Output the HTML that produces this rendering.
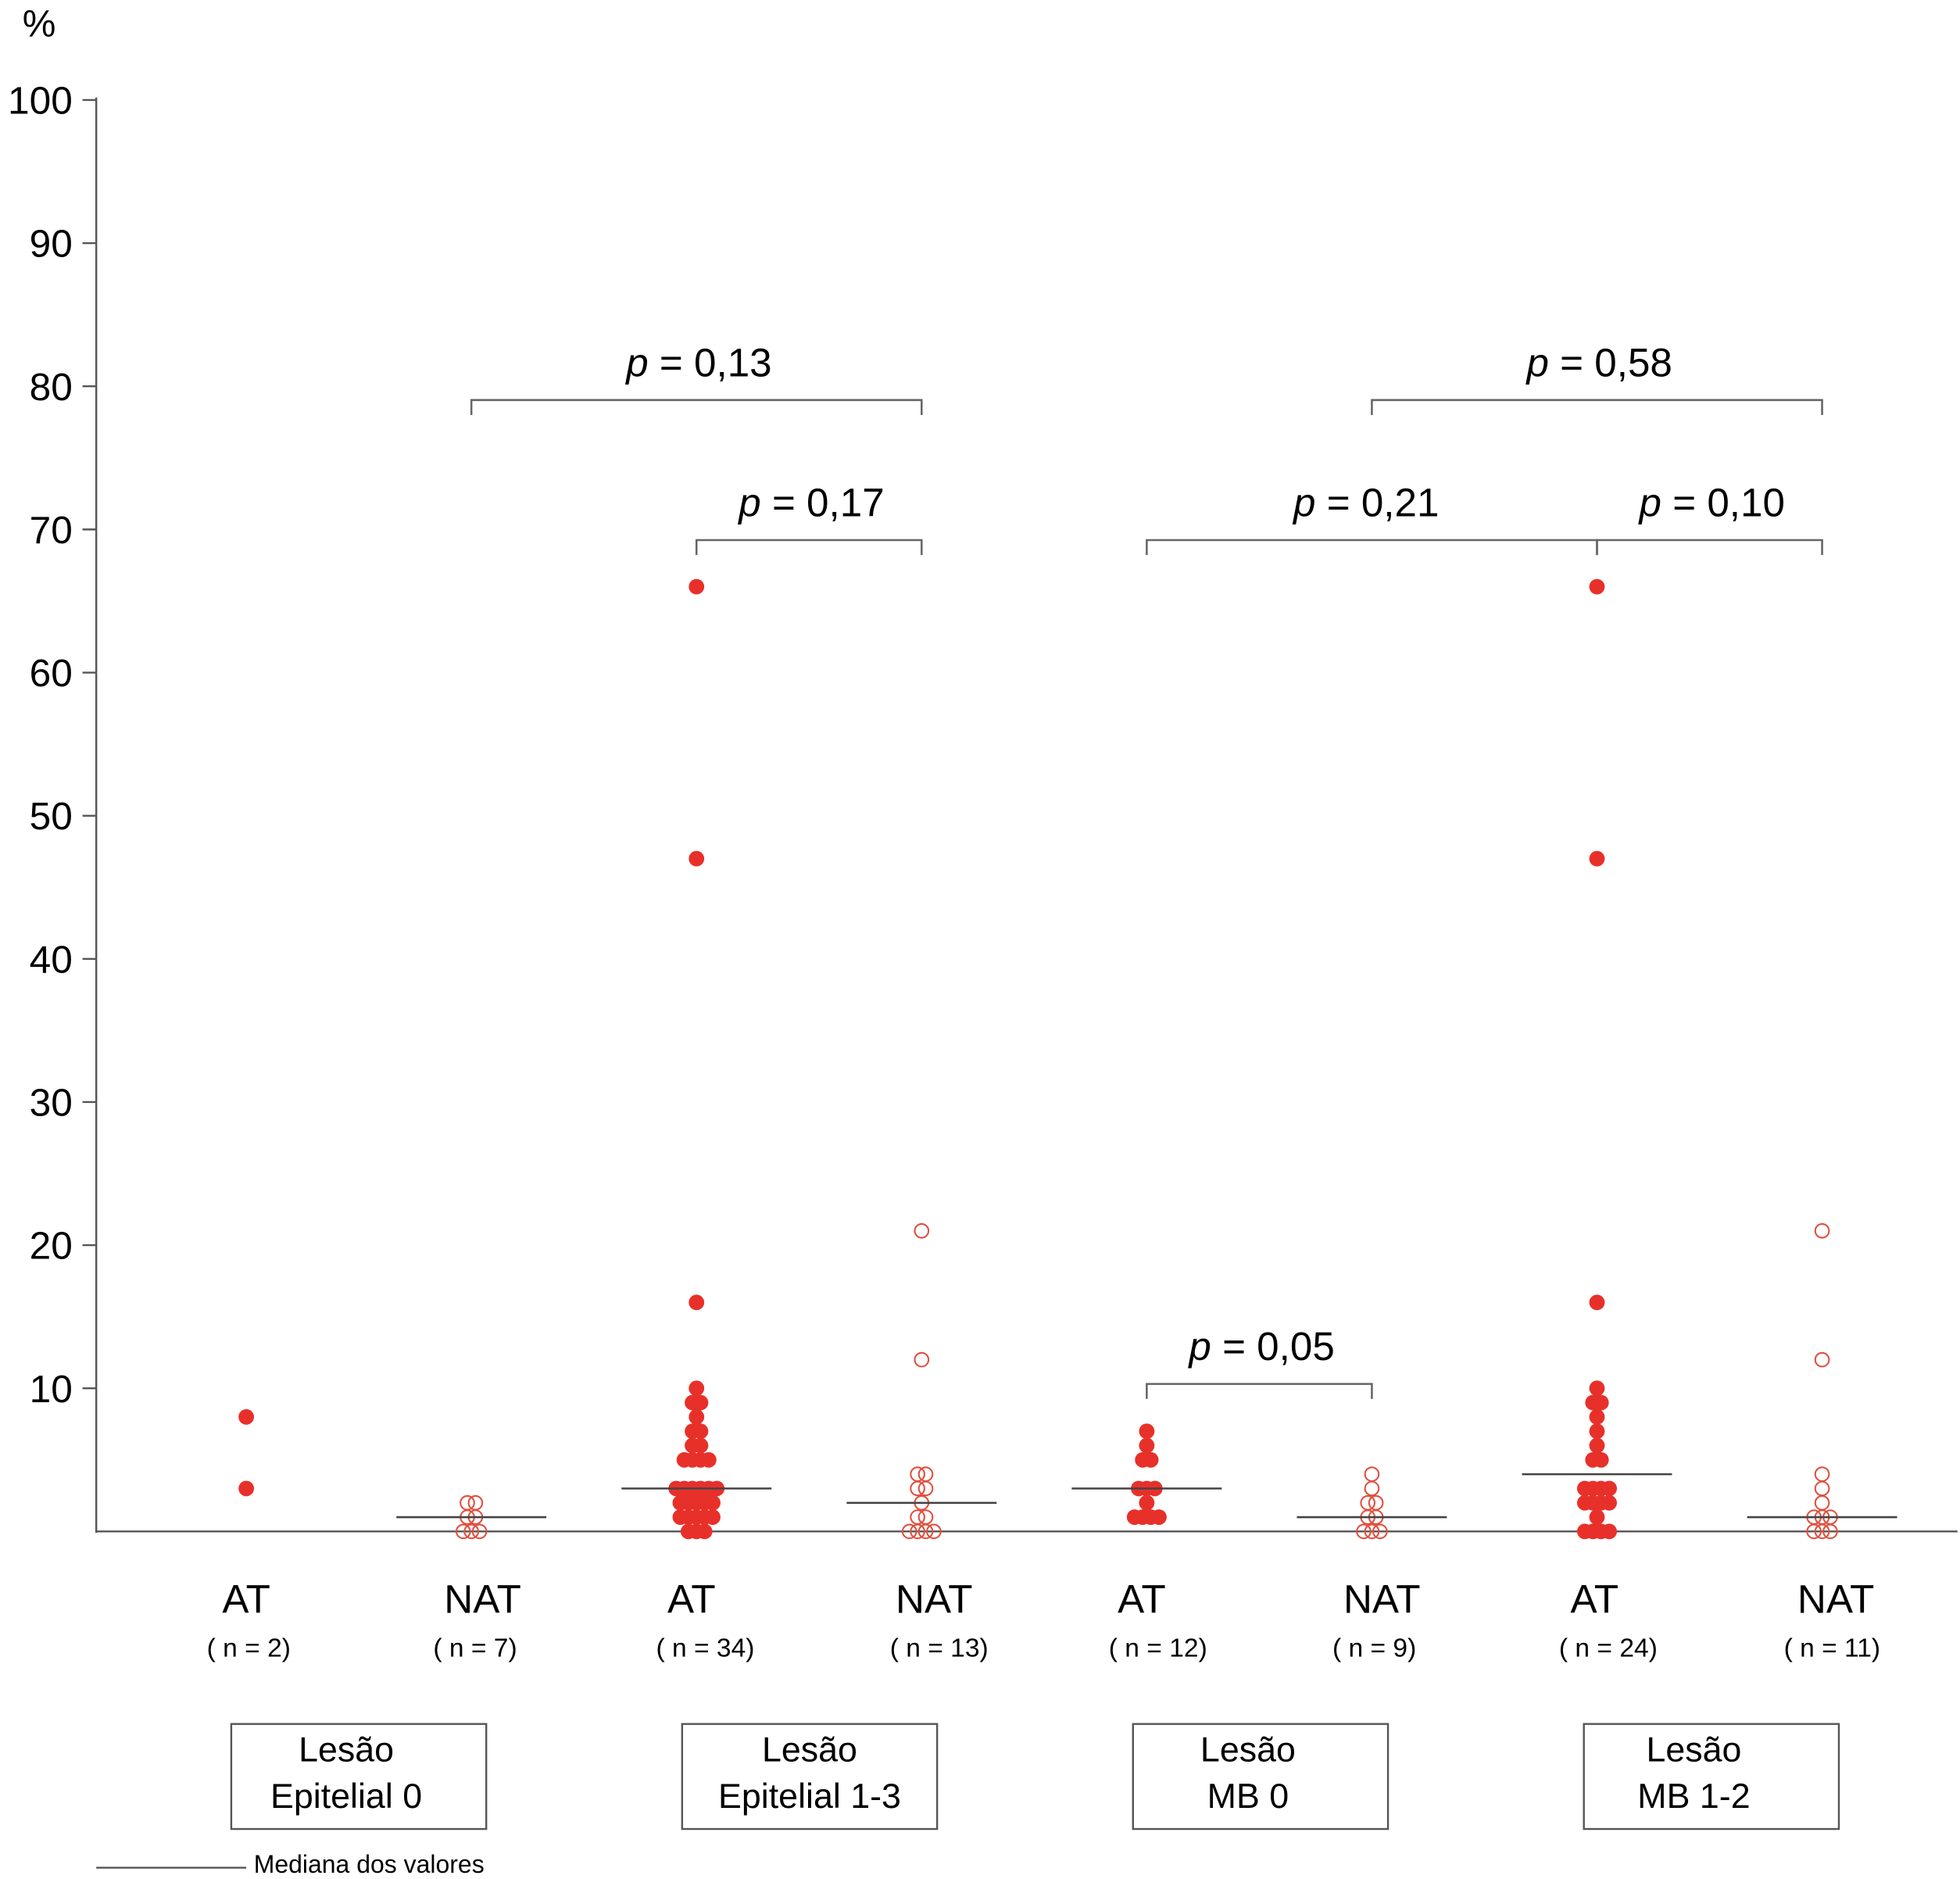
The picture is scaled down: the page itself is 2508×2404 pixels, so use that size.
<!DOCTYPE html>
<html><head><meta charset="utf-8"><style>html,body{margin:0;padding:0;background:#fff}svg{display:block}text{font-family:"Liberation Sans",sans-serif}</style></head>
<body>
<svg id="chart" width="2508" height="2404" viewBox="0 0 1568 1503" xmlns="http://www.w3.org/2000/svg">
<g id="axes"></g>
<g id="marks"></g>
<g id="ann"></g>
</svg>
<script>
const yTicks = [10,20,30,40,50,60,70,80,90,100];
const groupLabels = ["AT","NAT","AT","NAT","AT","NAT","AT","NAT"];
const nLabels = ["( n = 2)","( n = 7)","( n = 34)","( n = 13)","( n = 12)","( n = 9)","( n = 24)","( n = 11)"];
const g1AT = [8,3];
const g1NAT = [2,2,1,1,0,0,0];
const g2AT = [66,47,16,10,9,9,8,7,7,6,6,5,5,5,5,3,3,3,3,3,3,2,2,2,2,2,1,1,1,1,1,0,0,0];
const g2NAT = [21,12,4,4,3,3,2,1,1,0,0,0,0];
const g3AT = [7,6,5,5,3,3,3,2,1,1,1,1];
const g3NAT = [4,3,2,2,1,1,0,0,0];
const g4AT = [66,47,16,10,9,9,8,7,6,5,5,3,3,3,3,2,2,2,2,1,0,0,0,0];
const g4NAT = [21,12,4,3,2,1,1,1,0,0,0];
const medians = [null,1,3,2,3,1,4,1];
const lesionLines1 = ["Lesão","Lesão","Lesão","Lesão"];
const lesionLines2 = ["Epitelial 0","Epitelial 1-3","MB 0","MB 1-2"];
const brackets = [[1,3,"0,13",0],[2,3,"0,17",1],[4,6,"0,21",1],[6,7,"0,10",1],[5,7,"0,58",0],[4,5,"0,05",2]];

const series = [g1AT,g1NAT,g2AT,g2NAT,g3AT,g3NAT,g4AT,g4NAT];
const labelShift = [0,9,-4,10,-4,8,-2,11];
const nShift = [2,3,7,14,9,2,9,8];
const lesionShift = [-10,0,-10,-14];
const NS="http://www.w3.org/2000/svg";
const y0=1225, y100=80;
const y = v => y0 - (y0-y100)*v/100;
const xc = i => 197 + i*180.1;
function mk(tag, attrs, parent){const e=document.createElementNS(NS,tag);for(const k in attrs)e.setAttribute(k,attrs[k]);parent.appendChild(e);return e;}
const axes=document.getElementById('axes'), marks=document.getElementById('marks'), ann=document.getElementById('ann');

let e = mk('line',{x1:77,y1:78,x2:77,y2:1226,stroke:'#555','stroke-width':1.5},axes);


e = mk('line',{x1:77,y1:1225,x2:1566,y2:1225,stroke:'#555','stroke-width':1.5},axes);


e = mk('text',{x:18,y:29,'font-size':30},axes); e.textContent='%';


yTicks.forEach(t=>{
  const tk=mk('line',{x1:66,y1:y(t),x2:77,y2:y(t),stroke:'#555','stroke-width':1.5},axes);
  
  
  const tl=mk('text',{x:58,y:y(t)+11,'font-size':31,'text-anchor':'end'},axes); tl.textContent=t;
  
  
});

series.forEach((vals,gi)=>{
  const filled = gi%2===0;
  const counts={};vals.forEach(v=>counts[v]=(counts[v]||0)+1);
  const idx={};
  vals.forEach(v=>{
    const k=counts[v]; const i=idx[v]=(idx[v]===undefined?0:idx[v]+1);
    const cx = xc(gi) + (i-(k-1)/2)*6.5;
    const c=mk('circle',{cx:cx,cy:y(v),r:filled?6.2:5.5,fill:filled?'#e8302a':'none',stroke:filled?'none':'#e0503f','stroke-width':1.3},marks);
    
    
  });
  if(medians[gi]!==null){
    const m=mk('line',{x1:xc(gi)-60,x2:xc(gi)+60,y1:y(medians[gi]),y2:y(medians[gi]),stroke:'#444','stroke-width':1.6},marks);
    
    
  }
  const gl=mk('text',{x:xc(gi)+labelShift[gi],y:1290,'font-size':32,'text-anchor':'middle'},ann); gl.textContent=groupLabels[gi];
  
  
  const nl=mk('text',{x:xc(gi)+nShift[gi],y:1325,'font-size':21,'text-anchor':'middle'},ann); nl.textContent=nLabels[gi];
  
  
});

const levels=[320,432,1107];
brackets.forEach(b=>{
  const x1=xc(b[0]),x2=xc(b[1]),yy=levels[b[3]];
  const p=mk('path',{d:`M${x1},${yy+12}V${yy}H${x2}V${yy+12}`,fill:'none',stroke:'#666','stroke-width':1.6},ann);
  
  
  const tx = b[0]===4&&b[1]===6 ? 1093 : (x1+x2)/2+2;
  const t=mk('text',{x:tx,y:yy-19,'font-size':32,'text-anchor':'middle'},ann);
  t.innerHTML='<tspan font-style="italic">p</tspan> = '+b[2];
  
  
});

for(let i=0;i<4;i++){
  const bx=185+i*360.7;
  const r=mk('rect',{x:bx,y:1379,width:204,height:84,fill:'none',stroke:'#555','stroke-width':1.5},ann);
  
  
  const t1=mk('text',{x:bx+102+lesionShift[i],y:1409,'font-size':28,'text-anchor':'middle'},ann); t1.textContent=lesionLines1[i];
  
  
  const t2=mk('text',{x:bx+102+lesionShift[i],y:1446,'font-size':28,'text-anchor':'middle'},ann); t2.textContent=lesionLines2[i];
  
  
}
e=mk('line',{x1:77,x2:197,y1:1494,y2:1494,stroke:'#555','stroke-width':1.5},ann);


e=mk('text',{x:203,y:1498,'font-size':20},ann); e.textContent='Mediana dos valores';


</script>
</body></html>
